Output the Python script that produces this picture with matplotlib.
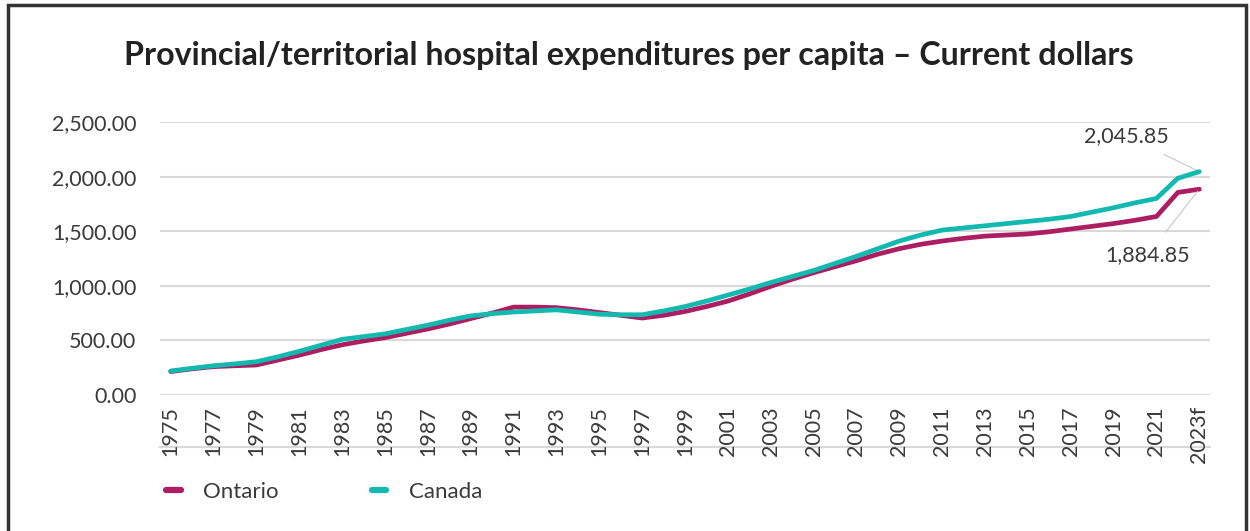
import numpy as np
import matplotlib.pyplot as plt
from matplotlib.patches import Rectangle
from matplotlib.ticker import FuncFormatter

plt.rcParams['font.family'] = ['Lato', 'DejaVu Sans']

years = list(range(1975, 2024))
ontario = [215, 240, 260, 268, 275, 320, 365, 415, 460, 495,
           525, 565, 605, 650, 700, 750, 805, 805, 800, 780,
           755, 730, 705, 730, 765, 810, 860, 925, 995, 1060,
           1120, 1175, 1230, 1290, 1340, 1380, 1410, 1435, 1455, 1465,
           1475, 1495, 1520, 1545, 1570, 1600, 1635, 1855, 1884.85]
canada = [220, 245, 268, 285, 305, 350, 400, 455, 510, 535,
          560, 600, 640, 685, 725, 745, 760, 770, 780, 760,
          740, 735, 735, 770, 810, 860, 915, 970, 1030, 1085,
          1140, 1205, 1270, 1340, 1410, 1465, 1510, 1530, 1550, 1570,
          1590, 1610, 1635, 1675, 1715, 1760, 1800, 1985, 2045.85]
tick_years = list(range(1975, 2024, 2))
tick_labels = [str(y) for y in tick_years[:-1]] + ['2023f']

ont_col = '#AD1D62'
can_col = '#12B9AF'
grid_col = '#D9D9D9'
text_col = '#3A3A3A'

fig = plt.figure(figsize=(12.5, 5.31), dpi=100)
ax = fig.add_axes([0.128, 0.2561, 0.84, 0.5141])

ax.plot(years, ontario, color=ont_col, lw=3.4, solid_capstyle='round',
        solid_joinstyle='round', label='Ontario', zorder=3)
ax.plot(years, canada, color=can_col, lw=3.4, solid_capstyle='round',
        solid_joinstyle='round', label='Canada', zorder=4)

ax.set_xlim(1974.5, 2023.5)
ax.set_ylim(0, 2500)
ax.set_yticks(np.arange(0, 2501, 500))
ax.yaxis.set_major_formatter(FuncFormatter(lambda v, p: f'{v:,.2f}'))
ax.set_xticks(tick_years)
ax.set_xticklabels(tick_labels, rotation=90, va='top', ha='center')
ax.tick_params(axis='both', length=0, labelsize=15.5, labelcolor=text_col)
ax.tick_params(axis='x', pad=8)
ax.tick_params(axis='y', pad=17)

ax.grid(axis='y', color=grid_col, lw=1.5)
ax.set_axisbelow(True)
for s in ax.spines.values():
    s.set_visible(False)

# stray rule running through the year labels
ax.plot([0, 1], [-0.19, -0.19], transform=ax.transAxes, color=grid_col,
        lw=1.5, clip_on=False, zorder=0)

# end-point labels
ax.annotate(f'{canada[-1]:,.2f}', xy=(years[-1], canada[-1]),
            xytext=(2019.6, 2370), ha='center', va='center', fontsize=15.5,
            color=text_col,
            arrowprops=dict(arrowstyle='-', color='#C8C8C8', lw=0.8,
                            shrinkA=9, shrinkB=2))
ax.annotate(f'{ontario[-1]:,.2f}', xy=(years[-1], ontario[-1]),
            xytext=(2020.6, 1285), ha='center', va='center', fontsize=15.5,
            color=text_col,
            arrowprops=dict(arrowstyle='-', color='#C8C8C8', lw=0.8,
                            shrinkA=9, shrinkB=2))

fig.text(0.503, 0.895,
         'Provincial/territorial hospital expenditures per capita \u2013 Current dollars',
         ha='center', va='center', fontsize=23.2, fontweight='bold', color='#222222')

leg = ax.legend(loc='upper left', bbox_to_anchor=(-0.013, -0.245), ncol=2,
                frameon=False, fontsize=16, handlelength=0.65, handletextpad=1.0,
                columnspacing=4.2)
for t in leg.get_texts():
    t.set_color(text_col)
for h in leg.get_lines():
    h.set_linewidth(4.5)
    h.set_solid_capstyle('round')

fig.patches.append(Rectangle((0.0064, -0.05), 0.99, 1.04, transform=fig.transFigure,
                             fill=False, ec='#333333', lw=2.5))

fig.savefig('out.png', dpi=100)
